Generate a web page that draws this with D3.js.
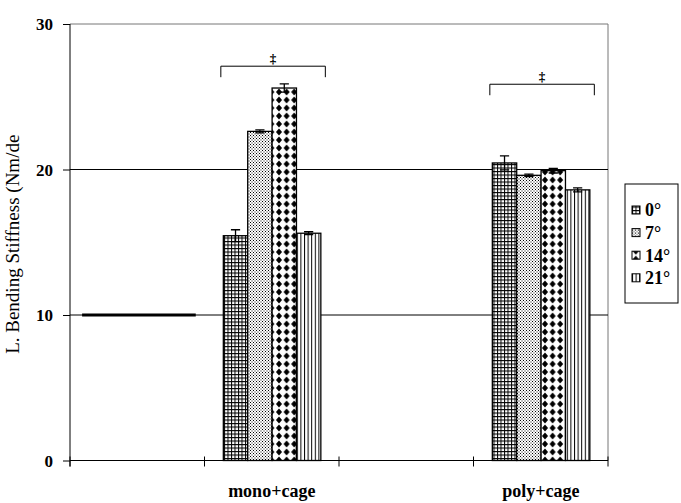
<!DOCTYPE html>
<html>
<head>
<meta charset="utf-8">
<script src="https://cdn.jsdelivr.net/npm/d3@7"></script>
<style>
  body { margin: 0; background: #fff; }
  svg text { font-family: "Liberation Serif", "Times New Roman", serif; }
</style>
</head>
<body>
<div id="chart"></div>
<script>
// categories on the x axis (blank ones are spacers)
var categories = ["c0", "mono+cage", "c2", "poly+cage"];
var catLabels = ["", "mono+cage", "", "poly+cage"];
var angles = ["0°", "7°", "14°", "21°"];

// bending stiffness per angle, with error
var monoValues = [15.45, 22.62, 25.6, 15.62];
var monoErrors = [0.41, 0.1, 0.28, 0.1];
var polyValues = [20.45, 19.6, 19.92, 18.6];
var polyErrors = [0.48, 0.08, 0.16, 0.14];

// reference level drawn in the first category
var refLevel = 10;

// significance brackets (height in data units)
var brackets = [
  {cat: "mono+cage", y: 27.1, label: "‡"},
  {cat: "poly+cage", y: 25.86, label: "‡"}
];

var yTicks = [0, 10, 20, 30];

var serif = "Liberation Serif";
var svg_width = 681;
var svg_height = 503;
var margins = {top: 24, left: 70, right: 73, bottom: 42.5};
var width = svg_width - margins.left - margins.right;
var height = svg_height - margins.top - margins.bottom;

var svg = d3.select("#chart")
            .append("svg")
            .attr("width", svg_width)
            .attr("height", svg_height);

// fill patterns
var defs = svg.append("defs");

var pGrid = defs.append("pattern").attr("id", "p0")
    .attr("patternUnits", "userSpaceOnUse").attr("width", 3.5).attr("height", 3.5);
pGrid.append("rect").attr("width", 3.5).attr("height", 3.5).attr("fill", "#fff");
pGrid.append("path").attr("d", "M0,0.5H3.5M0.5,0V3.5")
    .attr("stroke", "#000").attr("stroke-width", 1);

var pDots = defs.append("pattern").attr("id", "p1")
    .attr("patternUnits", "userSpaceOnUse").attr("width", 3).attr("height", 3);
pDots.append("rect").attr("width", 3).attr("height", 3).attr("fill", "#fff");
pDots.append("rect").attr("x", 0).attr("y", 0).attr("width", 1).attr("height", 1).attr("fill", "#000");
pDots.append("rect").attr("x", 1.5).attr("y", 1.5).attr("width", 1).attr("height", 1).attr("fill", "#000");

var pDiam = defs.append("pattern").attr("id", "p2")
    .attr("patternUnits", "userSpaceOnUse").attr("width", 7.6).attr("height", 8);
pDiam.append("rect").attr("width", 7.6).attr("height", 8).attr("fill", "#fff");
pDiam.append("path").attr("d", "M3.8,0.6L6.8,4L3.8,7.4L0.8,4Z").attr("fill", "#000");

var pStripe = defs.append("pattern").attr("id", "p3")
    .attr("patternUnits", "userSpaceOnUse").attr("width", 3.6).attr("height", 4);
pStripe.append("rect").attr("width", 3.6).attr("height", 4).attr("fill", "#fff");
pStripe.append("path").attr("d", "M0.5,0V4").attr("stroke", "#000").attr("stroke-width", 1);

var fills = ["url(#p0)", "url(#p1)", "url(#p2)", "url(#p3)"];

var g = svg.append("g")
    .attr("transform", "translate(" + margins.left + "," + margins.top + ")");

var x = d3.scaleBand().domain(categories).range([0, width]).padding(0);
var y = d3.scaleLinear().domain([0, 30]).range([height, 0]);

var bw = x.bandwidth();
var x1 = d3.scaleBand().domain(angles).range([bw * 0.14, bw * 0.865]).padding(0);

// plot border (top / right, grey)
g.append("path")
  .attr("d", "M0," + y(30) + "H" + width + "V" + height)
  .attr("fill", "none").attr("stroke", "#777").attr("stroke-width", 1);

// gridlines
g.selectAll(".grid")
  .data(yTicks.filter(d => d > 0 && d < 30))
  .enter().append("line")
  .attr("x1", 0).attr("x2", width)
  .attr("y1", d => y(d)).attr("y2", d => y(d))
  .attr("stroke", "#000").attr("stroke-width", 1);

// reference level line in first category
g.append("line")
  .attr("x1", x("c0") + bw * 0.09).attr("x2", x("c0") + bw * 0.935)
  .attr("y1", y(refLevel)).attr("y2", y(refLevel))
  .attr("stroke", "#000").attr("stroke-width", 3);

var barData = [];
angles.forEach((a, i) => {
  barData.push({cat: "mono+cage", angle: a, i: i, v: monoValues[i], e: monoErrors[i]});
  barData.push({cat: "poly+cage", angle: a, i: i, v: polyValues[i], e: polyErrors[i]});
});

g.selectAll(".bar")
  .data(barData)
  .enter().append("rect")
  .attr("class", "bar")
  .attr("x", d => x(d.cat) + x1(d.angle))
  .attr("width", x1.bandwidth())
  .attr("y", d => y(d.v))
  .attr("height", d => y(0) - y(d.v))
  .attr("fill", d => fills[d.i])
  .attr("stroke", "#000").attr("stroke-width", 1.3);

// error bars
var capW = 4.6;
var eb = g.selectAll(".err").data(barData).enter().append("g").attr("class", "err");
eb.append("path")
  .attr("d", function(d) {
    var cx = x(d.cat) + x1(d.angle) + x1.bandwidth() / 2;
    var t = y(d.v + d.e), b = y(d.v - d.e);
    return "M" + cx + "," + t + "V" + b +
           "M" + (cx - capW) + "," + t + "H" + (cx + capW) +
           "M" + (cx - capW) + "," + b + "H" + (cx + capW);
  })
  .attr("fill", "none").attr("stroke", "#000").attr("stroke-width", 1.3);

// brackets
brackets.forEach(function(b) {
  var x0 = x(b.cat) + x1.range()[0] - 2.5;
  var xe = x(b.cat) + x1.range()[1] + 4.5;
  var yy = y(b.y);
  g.append("path")
    .attr("d", "M" + x0 + "," + (yy + 11) + "V" + yy + "H" + xe + "V" + (yy + 11))
    .attr("fill", "none").attr("stroke", "#000").attr("stroke-width", 1);
  g.append("text")
    .attr("x", (x0 + xe) / 2).attr("y", yy - 3)
    .attr("text-anchor", "middle")
    .attr("font-family", serif)
    .style("font-size", "13px")
    .style("font-weight", "bold")
    .attr("fill", "#000")
    .text(b.label);
});

// axes
var yAxis = d3.axisLeft(y).tickValues(yTicks).tickSize(7).tickFormat(d3.format("d"));
var yAx = g.append("g").call(yAxis).attr("font-family", serif);
yAx.select(".domain").remove();
yAx.selectAll(".tick line").attr("stroke", "#000");
yAx.selectAll(".tick text")
  .attr("font-family", serif)
  .style("font-size", "17px").style("font-weight", "bold")
  .attr("x", -17).attr("dy", "0.35em");
g.append("line").attr("x1", 0).attr("x2", 0)
  .attr("y1", y(30)).attr("y2", height + 6).attr("stroke", "#000");

var xAx = g.append("g").attr("transform", "translate(0," + height + ")");
xAx.append("line").attr("x1", 0).attr("x2", width).attr("stroke", "#000");
var bounds = categories.map(c => x(c)).concat([width]);
xAx.selectAll(".xt").data(bounds).enter().append("line")
  .attr("x1", d => d).attr("x2", d => d)
  .attr("y1", -4).attr("y2", 6).attr("stroke", "#000");
xAx.selectAll(".xl").data(categories).enter().append("text")
  .attr("x", d => x(d) + bw / 2)
  .attr("y", 36)
  .attr("text-anchor", "middle")
  .attr("font-family", serif)
  .style("font-size", "18px").style("font-weight", "bold")
  .text((d, i) => catLabels[i]);

// y title
svg.append("text")
  .attr("transform", "translate(19," + (margins.top + height / 2 + 2) + ") rotate(-90)")
  .attr("text-anchor", "middle")
  .attr("font-family", serif)
  .style("font-size", "19px")
  .text("L. Bending Stiffness (Nm/de");

// legend
var lg = svg.append("g").attr("transform", "translate(625,184)");
lg.append("rect").attr("width", 53).attr("height", 119)
  .attr("fill", "#fff").attr("stroke", "#000").attr("stroke-width", 1);
var li = lg.selectAll(".li").data(angles).enter().append("g")
  .attr("transform", (d, i) => "translate(7," + (26 + i * 22.6) + ")");
li.append("rect").attr("x", 0).attr("y", -4).attr("width", 8).attr("height", 8)
  .attr("fill", (d, i) => fills[i]).attr("stroke", "#000").attr("stroke-width", 1);
li.append("text").attr("x", 13).attr("y", 0).attr("dy", "0.35em")
  .attr("font-family", serif)
  .style("font-size", "18px").style("font-weight", "bold")
  .text(d => d);
</script>
</body>
</html>
